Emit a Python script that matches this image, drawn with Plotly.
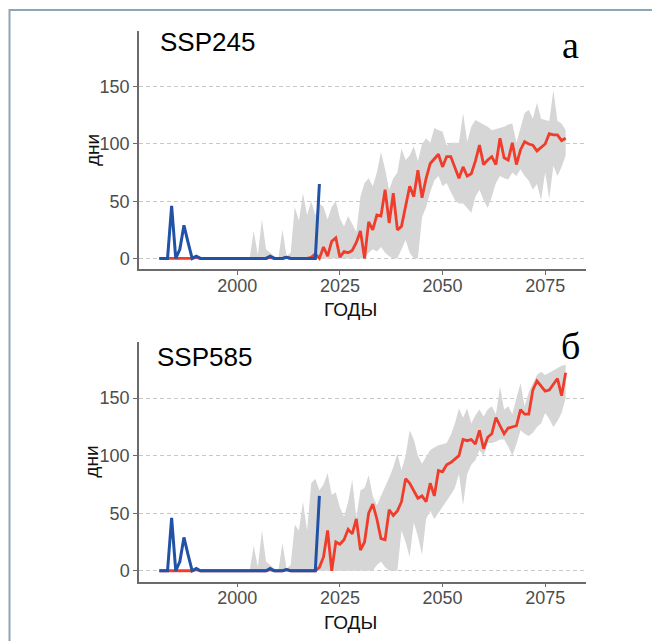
import plotly.graph_objects as go

# ---------------- data ----------------
years_obs = list(range(1981, 2021))
blue_obs = [0, 0, 0, 46, 0, 8, 29, 14, 0, 2,
            0, 0, 0, 0, 0, 0, 0, 0, 0, 0,
            0, 0, 0, 0, 0, 0, 0, 2, 0, 0,
            0, 1, 0, 0, 0, 0, 0, 0, 0, 65]

years_model = list(range(1981, 2081))
red_hist = [0, 0, 0, 0, 0, 0, 0, 0, 0, 1,
            0, 0, 0, 0, 0, 0, 0, 0, 0, 0,
            0, 0, 0, 0, 0, 0, 0, 1, 0, 0,
            0, 1, 0, 0, 0, 0]  # 1981-2016

red245_proj = [0, 1, 4, 0, 10, 2, 15, 18, 1, 6,          # 2017-2026
               5, 7, 14, 24, 0, 32, 25, 38, 37, 60,       # 2027-2036
               31, 57, 25, 28, 45, 63, 54, 77, 53, 70,    # 2037-2046
               83, 87, 91, 80, 89, 89, 80, 70, 80, 72,    # 2047-2056
               74, 85, 99, 82, 86, 89, 82, 105, 88, 86,   # 2057-2066
               101, 82, 95, 102, 100, 99, 94, 97, 100, 109,  # 2067-2076
               108, 108, 103, 105]                        # 2077-2080

red585_proj = [0, 0, 0, 3, 12, 35, 0, 25, 23, 27,
               36, 32, 45, 18, 25, 50, 58, 45, 28, 27,
               53, 48, 52, 60, 80, 76, 70, 63, 65, 60,
               76, 65, 87, 86, 92, 94, 97, 100, 114, 113,
               114, 110, 122, 106, 116, 119, 133, 126, 119, 124,
               125, 126, 140, 136, 136, 157, 165, 160, 156, 157,
               162, 167, 152, 172]

band_years = list(range(2003, 2081))
lo245 = [0] * 29 + [5, 8, 6, 10, 5, 2, 0, 0, 8, 16, 5, 0,      # 2003-2043
         0, 36, 45, 58, 68, 72, 63, 66, 58, 51,                # 2044-2053
         48, 48, 44, 40, 54, 60, 51, 44, 54, 66,               # 2054-2063
         72, 70, 69, 75, 72, 78, 72, 68, 60, 65,               # 2064-2073
         51, 75, 52, 81, 72, 80, 90]                           # 2074-2080
up245 = [0, 24, 3, 34, 8, 5, 2, 0, 25, 2,
         5, 45, 33, 57, 38, 50, 38, 48, 45, 34,
         45, 50, 35, 28, 37, 30, 23, 54, 66, 70,
         63, 75, 93, 78, 60, 70, 75, 96, 86, 90,
         98, 85, 100, 105, 101, 114, 112, 111, 99, 101,
         101, 101, 127, 102, 115, 121, 119, 117, 115, 112,
         113, 114, 115, 117, 118, 101, 115, 127, 130, 122,
         136, 122, 121, 120, 147, 120, 118, 112]

lo585 = [0] * 31 + [5, 8, 3, 0, 0, 0, 35, 25, 12, 42,          # 2003-2043
         30, 14, 45, 52, 45, 50, 56, 60, 66, 72,               # 2044-2053
         84, 57, 84, 92, 96, 105, 100, 111, 111, 112,          # 2054-2063
         114, 114, 108, 100, 110, 122, 119, 117, 120, 125,     # 2064-2073
         128, 137, 132, 125, 130, 137, 150]                    # 2074-2080
up585 = [0, 22, 3, 35, 8, 5, 2, 0, 24, 2,
         5, 40, 35, 60, 35, 76, 80, 70, 75, 85,
         66, 68, 55, 47, 60, 79, 46, 70, 72, 83,
         65, 57, 65, 72, 81, 90, 102, 87, 100, 122,
         114, 100, 93, 99, 105, 107, 109, 110, 111, 118,
         128, 141, 133, 141, 128, 135, 140, 134, 140, 143,
         136, 160, 140, 143, 136, 150, 163, 143, 155, 163,
         170, 173, 170, 172, 174, 176, 178, 179]

x_ticks = [2000, 2025, 2050, 2075]
y_ticks = [0, 50, 100, 150]
panel_titles = ["SSP245", "SSP585"]
panel_letters = ["а", "б"]
x_title = "ГОДЫ"
y_title = "дни"

# ---------------- style ----------------
W, H = 652, 641
RED = "#F03C2A"
BLUE = "#2152A6"
BAND = "#D6D6D6"
FONT = "Liberation Sans, Arial, sans-serif"

fig = go.Figure()

scen = [
    (lo245, up245, red_hist + red245_proj, "x", "y"),
    (lo585, up585, red_hist + red585_proj, "x2", "y2"),
]
for lo, up, red, xa, ya in scen:
    fig.add_trace(go.Scatter(x=band_years, y=lo, mode="lines", line=dict(width=0, color=BAND),
                             xaxis=xa, yaxis=ya, showlegend=False, hoverinfo="skip"))
    fig.add_trace(go.Scatter(x=band_years, y=up, mode="lines", line=dict(width=0, color=BAND),
                             fill="tonexty", fillcolor=BAND,
                             xaxis=xa, yaxis=ya, showlegend=False, hoverinfo="skip"))
    fig.add_trace(go.Scatter(x=years_model, y=red, mode="lines", line=dict(width=2.8, color=RED),
                             xaxis=xa, yaxis=ya, showlegend=False))
    fig.add_trace(go.Scatter(x=years_obs, y=blue_obs, mode="lines", line=dict(width=3, color=BLUE),
                             xaxis=xa, yaxis=ya, showlegend=False))

def px_x(p):
    return p / W

def px_y(p):
    return 1 - p / H

xdom = [px_x(139), px_x(586)]
top_dom = [px_y(269.3), px_y(30.7)]
bot_dom = [px_y(581.7), px_y(341.7)]

xcommon = dict(domain=xdom, range=[1976.05, 2084.95], tickvals=x_ticks, showgrid=False, zeroline=False,
               showline=True, linecolor="#6b6b6b", linewidth=1.5, ticks="outside", ticklen=4,
               tickcolor="#6b6b6b", ticklabelstandoff=-5,
               tickfont=dict(family=FONT, size=18, color="#4d4d4d"))
ycommon = dict(range=[-9.5, 199], tickvals=y_ticks, showgrid=True, gridcolor="#c8c8c8", gridwidth=1,
               griddash="4px,3px", zeroline=False, showline=True, linecolor="#6b6b6b", linewidth=1.5,
               ticks="outside", ticklen=4, tickcolor="#6b6b6b",
               tickfont=dict(family=FONT, size=18, color="#4d4d4d"))

fig.update_layout(
    width=W, height=H,
    margin=dict(l=0, r=0, t=0, b=0),
    paper_bgcolor="white", plot_bgcolor="white",
    xaxis=dict(anchor="y", **xcommon),
    yaxis=dict(anchor="x", domain=top_dom, **ycommon),
    xaxis2=dict(anchor="y2", **xcommon),
    yaxis2=dict(anchor="x2", domain=bot_dom, **ycommon),
    showlegend=False,
    hovermode=False,
)

ann = []
for i, (ytitle_c, xtitle_c, ptitle_c, letter_c, ptitle_x) in enumerate([
        (150, 310, 42.5, 44.5, 158), (461.7, 622, 356.7, 345.5, 155)]):
    ann.append(dict(text=y_title, x=px_x(92), y=px_y(ytitle_c), xref="paper", yref="paper",
                    textangle=-90, showarrow=False, xanchor="center", yanchor="middle",
                    font=dict(family=FONT, size=19, color="#111111")))
    ann.append(dict(text=x_title, x=px_x(350), y=px_y(xtitle_c), xref="paper", yref="paper",
                    showarrow=False, xanchor="center", yanchor="middle",
                    font=dict(family=FONT, size=19, color="#111111")))
    ann.append(dict(text=panel_titles[i], x=px_x(ptitle_x), y=px_y(ptitle_c), xref="paper", yref="paper",
                    showarrow=False, xanchor="left", yanchor="middle",
                    font=dict(family=FONT, size=26, color="#000000")))
    ann.append(dict(text=panel_letters[i], x=px_x(570), y=px_y(letter_c), xref="paper", yref="paper",
                    showarrow=False, xanchor="center", yanchor="middle",
                    font=dict(family="Liberation Serif, Times New Roman, serif", size=38, color="#000000")))
fig.update_layout(annotations=ann)

# outer frame (left and top edges visible)
fig.add_shape(type="rect", xref="paper", yref="paper",
              x0=px_x(9.5), x1=1.2, y0=-0.2, y1=px_y(10),
              line=dict(color="#8CA6B6", width=2), fillcolor="rgba(0,0,0,0)", layer="above")

fig.write_html("out.html", config={"displayModeBar": False},
               post_script="document.body.style.margin='0px';document.body.style.overflow='hidden';")
